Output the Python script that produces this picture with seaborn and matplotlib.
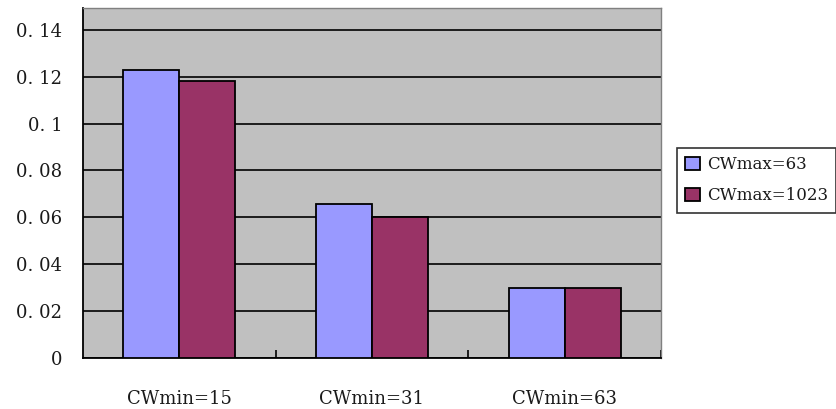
import matplotlib
matplotlib.use("Agg")
import matplotlib.pyplot as plt
import seaborn as sns
import pandas as pd
from matplotlib.ticker import FixedLocator

categories = ["CWmin=15", "CWmin=31", "CWmin=63"]
series_names = ["CWmax=63", "CWmax=1023"]
cwmax_63 = [0.123, 0.0655, 0.030]
cwmax_1023 = [0.118, 0.060, 0.030]
y_ticks = [0, 0.02, 0.04, 0.06, 0.08, 0.10, 0.12, 0.14]
y_tick_labels = ["0", "0. 02", "0. 04", "0. 06", "0. 08", "0. 1", "0. 12", "0. 14"]

df = pd.DataFrame({
    "category": categories * 2,
    "series": [series_names[0]] * 3 + [series_names[1]] * 3,
    "value": cwmax_63 + cwmax_1023,
})

sns.set_theme(style="white")
plt.rcParams["font.family"] = ["DejaVu Serif"]

fig = plt.figure(figsize=(8.37, 4.09), dpi=100)
ax = fig.add_axes([83 / 837, 51 / 409, 578 / 837, 350 / 409])
ax.set_facecolor("#C0C0C0")

sns.barplot(data=df, x="category", y="value", hue="series",
            palette=["#9999FF", "#993366"], width=0.58,
            edgecolor="black", linewidth=1.3, saturation=1,
            ax=ax, zorder=3)

ax.set_xlim(-0.5, 2.5)
ax.set_ylim(0, 0.1493)
ax.set_yticks(y_ticks)
ax.set_yticklabels(y_tick_labels, fontsize=13, color="#1a1a1a")
ax.yaxis.grid(True, color="black", linewidth=1.2, zorder=1)
ax.set_axisbelow(True)
ax.tick_params(axis="y", length=0, pad=15)
ax.tick_params(axis="x", which="major", length=0, pad=23, labelsize=13,
               labelcolor="#1a1a1a")
ax.xaxis.set_minor_locator(FixedLocator([0.5, 1.5, 2.5]))
ax.tick_params(axis="x", which="minor", direction="in", length=6,
               width=1.2, color="black", bottom=True)
ax.set_xlabel("")
ax.set_ylabel("")

for side in ["left", "bottom"]:
    ax.spines[side].set_color("black")
    ax.spines[side].set_linewidth(1.3)
for side in ["top", "right"]:
    ax.spines[side].set_color("#808080")
    ax.spines[side].set_linewidth(1.0)
    ax.spines[side].set_visible(True)

handles, labels = ax.get_legend_handles_labels()
ax.legend_.remove()
leg = fig.legend(handles, labels, loc="upper left",
                 bbox_to_anchor=(677 / 837, 1 - 148 / 409),
                 fontsize=12, frameon=True, fancybox=False,
                 edgecolor="black", handlelength=0.85, handleheight=0.85,
                 handletextpad=0.45, borderpad=0.5, labelspacing=0.85,
                 borderaxespad=0)
leg.get_frame().set_linewidth(1.2)
for t in leg.get_texts():
    t.set_color("#1a1a1a")

fig.savefig("out.png", dpi=100, facecolor="white")
